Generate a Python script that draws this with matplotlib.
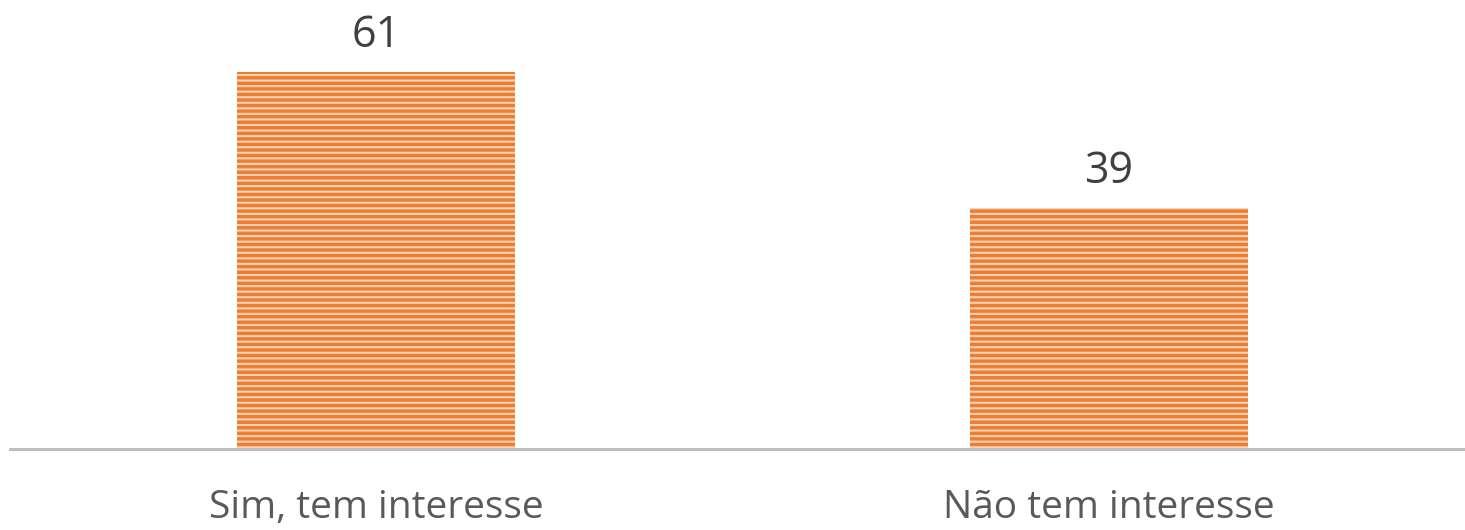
import matplotlib
matplotlib.use("Agg")
import matplotlib.pyplot as plt

categories = ["Sim, tem interesse", "Não tem interesse"]
values = [61, 39]

plt.rcParams["font.family"] = ["Open Sans", "DejaVu Sans"]
plt.rcParams["hatch.linewidth"] = 1.5

fig = plt.figure(figsize=(14.65, 5.30), dpi=100)
ax = fig.add_axes([10 / 1465, 81 / 530, 1455 / 1465, 433 / 530])

x = list(range(len(categories)))
# orange bars with light horizontal stripes (hatch colour follows edgecolor)
ax.bar(x, values, width=0.38, color="#ED7D31", edgecolor="#F9D3B8",
       linewidth=0, hatch="---")

for xi, v in zip(x, values):
    ax.annotate(f"{v}", (xi, v), xytext=(0, 17.5), textcoords="offset points",
                ha="center", va="baseline", fontsize=31, color="#404040")

ax.set_xlim(-366 / 733, 1089 / 733)
ax.set_ylim(0, 70)
ax.set_xticks(x)
ax.set_xticklabels(categories, fontsize=28, color="#595959")
ax.tick_params(axis="x", length=0, pad=29)
ax.set_yticks([])
for s in ["top", "right", "left"]:
    ax.spines[s].set_visible(False)
ax.spines["bottom"].set_color("#BFBFBF")
ax.spines["bottom"].set_linewidth(2.2)

fig.savefig("out.png", dpi=100)
